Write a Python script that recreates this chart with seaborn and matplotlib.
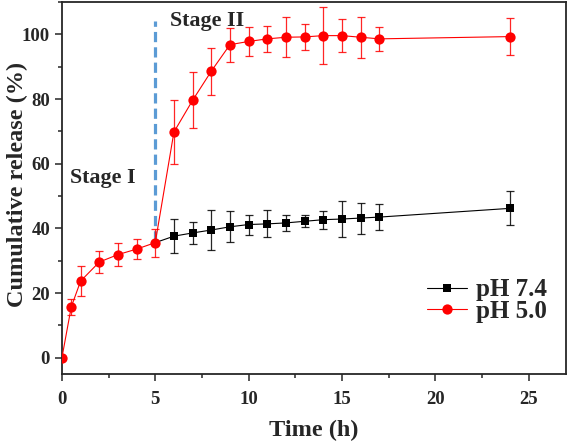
import matplotlib
matplotlib.use("Agg")
import matplotlib.pyplot as plt
from matplotlib.ticker import MultipleLocator
from matplotlib.lines import Line2D
import seaborn as sns
import pandas as pd

time_h = [0, 0.5, 1, 2, 3, 4, 5, 6, 7, 8, 9, 10, 11, 12, 13, 14, 15, 16, 17, 24]
ph50 = [0, 15.7, 23.7, 29.6, 31.9, 33.6, 35.6, 69.8, 79.6, 88.6, 96.8, 97.8, 98.6,
        99.1, 99.2, 99.6, 99.6, 99.1, 98.6, 99.3]
ph50_err = [0, 2.4, 4.6, 3.4, 3.5, 3.2, 4.3, 10.0, 8.7, 7.3, 5.3, 4.6, 4.0,
            6.2, 4.0, 8.8, 5.2, 6.4, 3.7, 5.8]
time74 = [5, 6, 7, 8, 9, 10, 11, 12, 13, 14, 15, 16, 17, 24]
ph74 = [35.6, 37.6, 38.6, 39.5, 40.5, 41.2, 41.4, 41.7, 42.2, 42.7, 42.9, 43.2, 43.5, 46.2]
ph74_err = [0, 5.3, 3.5, 6.2, 4.8, 3.1, 4.2, 2.4, 1.8, 2.8, 5.5, 4.8, 4.1, 5.3]
series_names = ["pH 7.4", "pH 5.0"]
stage_labels = ["Stage I", "Stage II"]

sns.set_style("ticks")
plt.rcParams['font.family'] = ['Liberation Serif', 'DejaVu Serif']
plt.rcParams['font.weight'] = 'bold'

fig = plt.figure(figsize=(5.68, 4.41), dpi=100)
ax = fig.add_axes([0.109, 0.152, 0.8875, 0.8435])

df74 = pd.DataFrame({"t": time74, "v": ph74})
df50 = pd.DataFrame({"t": time_h, "v": ph50})

ax.errorbar(time74[1:], ph74[1:], yerr=ph74_err[1:], fmt='none', ecolor='black',
            elinewidth=0.9, capsize=3.0, capthick=0.9, alpha=0.85, zorder=2)
sns.lineplot(data=df74, x="t", y="v", ax=ax, color='black', marker='s', markersize=6.4,
             markeredgewidth=0, linewidth=0.8, markevery=slice(1, None), zorder=3)
ax.errorbar(time_h, ph50, yerr=ph50_err, fmt='none', ecolor='red', elinewidth=0.9,
            capsize=3.0, capthick=0.9, alpha=0.85, zorder=4)
sns.lineplot(data=df50, x="t", y="v", ax=ax, color='red', marker='o', markersize=7.4,
             markeredgewidth=0, linewidth=0.8, zorder=5)

ax.plot([5, 5], [36, 104], color='#5b9bd5', linewidth=2.3, linestyle=(0, (3.2, 1.6)), zorder=1)

ax.text(0.45, 55.5, stage_labels[0], fontsize=15.8, fontweight='bold', va='center', ha='left')
ax.text(5.8, 104.2, stage_labels[1], fontsize=15.8, fontweight='bold', va='center', ha='left')

ax.set_xlim(0, 27)
ax.set_ylim(-5, 110)
ax.xaxis.set_major_locator(MultipleLocator(5))
ax.xaxis.set_minor_locator(MultipleLocator(2.5))
ax.yaxis.set_major_locator(MultipleLocator(20))
ax.yaxis.set_minor_locator(MultipleLocator(10))
ax.tick_params(which='major', direction='out', length=5, width=1.1, labelsize=13.5)
ax.tick_params(axis='x', which='major', pad=7)
ax.tick_params(which='minor', direction='out', length=3, width=1.1)
for lab in ax.get_xticklabels() + ax.get_yticklabels():
    lab.set_fontweight('bold')
for s in ax.spines.values():
    s.set_linewidth(1.3)
    s.set_visible(True)

ax.set_xlabel("Time (h)", fontsize=17.5, fontweight='bold', labelpad=9)
ax.set_ylabel("Cumulative release (%)", fontsize=17.5, fontweight='bold')
ax.yaxis.set_label_coords(-0.068, 0.51)

handles = [
    Line2D([], [], color='black', marker='s', markersize=6.4, markeredgewidth=0, linewidth=0.8),
    Line2D([], [], color='red', marker='o', markersize=7.4, markeredgewidth=0, linewidth=0.8),
]
leg = ax.legend(handles, series_names, loc='center right', bbox_to_anchor=(0.987, 0.197),
                frameon=False,
                prop={'family': 'Liberation Serif', 'weight': 'bold', 'size': 18},
                handlelength=1.6, handletextpad=0.35, labelspacing=-0.05, borderpad=0.0)

fig.savefig("out.png", dpi=100)
